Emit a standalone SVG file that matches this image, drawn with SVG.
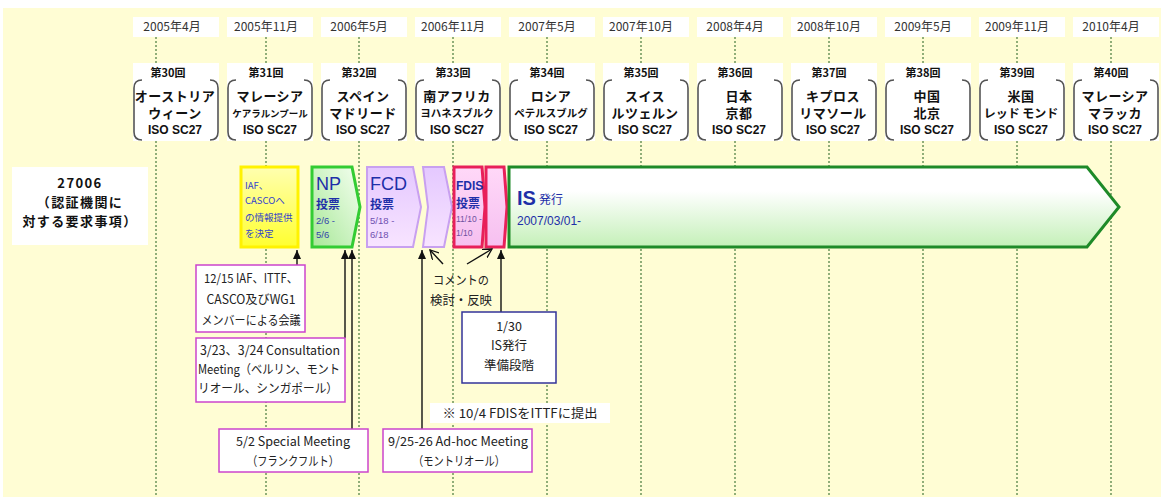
<svg xmlns="http://www.w3.org/2000/svg" width="1161" height="504" viewBox="0 0 1161 504">
<defs>
<style>
.bg{fill:#FFFDD4}
.dot{stroke:#90AE78;stroke-width:2;stroke-dasharray:2 2;fill:none}
.lbl{fill:#fff}
.date{font-family:"Noto Sans CJK JP","Noto Sans",sans-serif;font-size:12px;fill:#333;text-anchor:middle}
.kai{font-family:"Noto Sans CJK JP",sans-serif;font-size:11px;font-weight:bold;fill:#111;text-anchor:middle}
.mt{font-family:"Noto Sans CJK JP",sans-serif;font-size:13px;font-weight:bold;fill:#111;text-anchor:middle;letter-spacing:0.5px}
.ms{font-family:"Noto Sans CJK JP",sans-serif;font-size:9.5px;font-weight:bold;fill:#111;text-anchor:middle}
.iso{font-family:"Liberation Sans","Noto Sans CJK JP",sans-serif;font-size:12px;font-weight:bold;fill:#111;text-anchor:middle}
.ann{font-family:"Noto Sans CJK JP",sans-serif;font-size:12.5px;fill:#222;text-anchor:middle}
.ttl{font-family:"Noto Sans CJK JP",sans-serif;font-size:13px;font-weight:bold;fill:#111;text-anchor:middle;letter-spacing:1.4px}
.box{fill:#fff;stroke:#CC44CC;stroke-width:1.5}
.blue{fill:#1E2FA8;font-family:"Liberation Sans","Noto Sans CJK JP",sans-serif}
.conn{stroke:#111;stroke-width:1.4;fill:none}
</style>
<g id="bracket">
<rect x="0" y="0" width="86" height="62" fill="#fff"/>
<path d="M9,1 Q1,1 1,9 L1,53 Q1,61 9,61 M77,1 Q85,1 85,9 L85,53 Q85,61 77,61" fill="none" stroke="#555" stroke-width="1.6"/>
</g>
<marker id="ah" markerUnits="userSpaceOnUse" markerWidth="10" markerHeight="8" refX="9" refY="4" orient="auto"><path d="M0,0 L9,4 L0,8 z" fill="#111"/></marker>
<marker id="ao" markerUnits="userSpaceOnUse" markerWidth="10" markerHeight="10" refX="9" refY="5" orient="auto"><path d="M0,0 L9,5 L0,10" fill="none" stroke="#111" stroke-width="1.3"/></marker>
<linearGradient id="gY" x1="0" y1="0" x2="0" y2="1"><stop offset="0" stop-color="#FFFFB0"/><stop offset="1" stop-color="#FFFF30"/></linearGradient>
<linearGradient id="gG" x1="1" y1="0" x2="0" y2="1"><stop offset="0" stop-color="#F4FFF0"/><stop offset="1" stop-color="#A8E898"/></linearGradient>
<linearGradient id="gP" x1="0" y1="0" x2="0" y2="1"><stop offset="0" stop-color="#E4C8FF"/><stop offset="1" stop-color="#F8E4FF"/></linearGradient>
<linearGradient id="gR" x1="0" y1="0" x2="0" y2="1"><stop offset="0" stop-color="#FFD8F8"/><stop offset="1" stop-color="#F6C0F0"/></linearGradient>
<linearGradient id="gIS" x1="0" y1="0" x2="0" y2="1"><stop offset="0" stop-color="#FFFFFF"/><stop offset="0.3" stop-color="#FFFFFF"/><stop offset="1" stop-color="#C4F0B8"/></linearGradient>
</defs>
<rect class="bg" x="3" y="8" width="1158" height="489"/>

<g id="gridlines">
<path class="dot" d="M156,37 V63 M156,141 V497 M266,37 V63 M266,141 V497 M359,37 V63 M359,141 V497 M453,37 V63 M453,141 V497 M547,37 V63 M547,141 V497 M641,37 V63 M641,141 V497 M735,37 V63 M735,141 V497 M829,37 V63 M829,141 V497 M923,37 V63 M923,141 V497 M1017,37 V63 M1017,141 V497 M1111,37 V63 M1111,141 V497"/>
</g>

<g id="m30"><rect class="lbl" x="133" y="17" width="86" height="20"/><text class="date" x="172" y="31">2005年4月</text><rect class="lbl" x="133" y="63" width="86" height="16"/><text class="kai" x="168" y="77">第30回</text><use href="#bracket" x="133" y="79"/><text class="mt" x="175" y="101">オーストリア</text><text class="mt" x="175" y="118">ウィーン</text><text class="iso" x="175" y="134">ISO SC27</text></g>
<g id="m31"><rect class="lbl" x="227" y="17" width="86" height="20"/><text class="date" x="266" y="31">2005年11月</text><rect class="lbl" x="227" y="63" width="86" height="16"/><text class="kai" x="266" y="77">第31回</text><use href="#bracket" x="227" y="79"/><text class="mt" x="270" y="101">マレーシア</text><text class="ms" x="270" y="117">ケアラルンプール</text><text class="iso" x="270" y="134">ISO SC27</text></g>
<g id="m32"><rect class="lbl" x="321" y="17" width="86" height="20"/><text class="date" x="359" y="31">2006年5月</text><rect class="lbl" x="321" y="63" width="86" height="16"/><text class="kai" x="359" y="77">第32回</text><use href="#bracket" x="321" y="79"/><text class="mt" x="363" y="101">スペイン</text><text class="mt" x="363" y="118">マドリード</text><text class="iso" x="363" y="134">ISO SC27</text></g>
<g id="m33"><rect class="lbl" x="415" y="17" width="86" height="20"/><text class="date" x="453" y="31">2006年11月</text><rect class="lbl" x="415" y="63" width="86" height="16"/><text class="kai" x="453" y="77">第33回</text><use href="#bracket" x="415" y="79"/><text class="mt" x="457" y="101">南アフリカ</text><text class="ms" x="457" y="117" style="font-size:10.5px">ヨハネスブルク</text><text class="iso" x="457" y="134">ISO SC27</text></g>
<g id="m34"><rect class="lbl" x="509" y="17" width="86" height="20"/><text class="date" x="547" y="31">2007年5月</text><rect class="lbl" x="509" y="63" width="86" height="16"/><text class="kai" x="547" y="77">第34回</text><use href="#bracket" x="509" y="79"/><text class="mt" x="551" y="101">ロシア</text><text class="ms" x="551" y="117" style="font-size:10.5px">ペテルスブルグ</text><text class="iso" x="551" y="134">ISO SC27</text></g>
<g id="m35"><rect class="lbl" x="603" y="17" width="86" height="20"/><text class="date" x="641" y="31">2007年10月</text><rect class="lbl" x="603" y="63" width="86" height="16"/><text class="kai" x="641" y="77">第35回</text><use href="#bracket" x="603" y="79"/><text class="mt" x="645" y="101">スイス</text><text class="mt" x="645" y="118">ルツェルン</text><text class="iso" x="645" y="134">ISO SC27</text></g>
<g id="m36"><rect class="lbl" x="697" y="17" width="86" height="20"/><text class="date" x="735" y="31">2008年4月</text><rect class="lbl" x="697" y="63" width="86" height="16"/><text class="kai" x="735" y="77">第36回</text><use href="#bracket" x="697" y="79"/><text class="mt" x="739" y="101">日本</text><text class="mt" x="739" y="118">京都</text><text class="iso" x="739" y="134">ISO SC27</text></g>
<g id="m37"><rect class="lbl" x="791" y="17" width="86" height="20"/><text class="date" x="829" y="31">2008年10月</text><rect class="lbl" x="791" y="63" width="86" height="16"/><text class="kai" x="829" y="77">第37回</text><use href="#bracket" x="791" y="79"/><text class="mt" x="833" y="101">キプロス</text><text class="mt" x="833" y="118">リマソール</text><text class="iso" x="833" y="134">ISO SC27</text></g>
<g id="m38"><rect class="lbl" x="885" y="17" width="86" height="20"/><text class="date" x="923" y="31">2009年5月</text><rect class="lbl" x="885" y="63" width="86" height="16"/><text class="kai" x="923" y="77">第38回</text><use href="#bracket" x="885" y="79"/><text class="mt" x="927" y="101">中国</text><text class="mt" x="927" y="118">北京</text><text class="iso" x="927" y="134">ISO SC27</text></g>
<g id="m39"><rect class="lbl" x="979" y="17" width="86" height="20"/><text class="date" x="1017" y="31">2009年11月</text><rect class="lbl" x="979" y="63" width="86" height="16"/><text class="kai" x="1017" y="77">第39回</text><use href="#bracket" x="979" y="79"/><text class="mt" x="1021" y="101">米国</text><text class="mt" x="1021" y="118" style="font-size:12px;letter-spacing:0">レッド モンド</text><text class="iso" x="1021" y="134">ISO SC27</text></g>
<g id="m40"><rect class="lbl" x="1073" y="17" width="86" height="20"/><text class="date" x="1111" y="31">2010年4月</text><rect class="lbl" x="1073" y="63" width="86" height="16"/><text class="kai" x="1111" y="77">第40回</text><use href="#bracket" x="1073" y="79"/><text class="mt" x="1115" y="101">マレーシア</text><text class="mt" x="1115" y="118">マラッカ</text><text class="iso" x="1115" y="134">ISO SC27</text></g>

<g id="title27006">
<rect x="12" y="167" width="136" height="78" fill="#fff"/>
<text class="ttl" x="80" y="188">27006</text>
<text class="ttl" x="80" y="207">（認証機関に</text>
<text class="ttl" x="80" y="226">対する要求事項）</text>
</g>

<g id="iaf">
<rect x="241" y="167" width="57" height="80" fill="url(#gY)" stroke="#FFF200" stroke-width="3"/>
<g style="font-family:'Noto Sans CJK JP',sans-serif;font-size:9.5px;fill:#3344CC">
<text x="245" y="189">IAF、</text><text x="245" y="204">CASCOへ</text><text x="245" y="221">の情報提供</text><text x="245" y="237">を決定</text>
</g>
</g>

<g id="np">
<path d="M312,167 L352,167 L360,207 L352,247 L312,247 Z" fill="url(#gG)" stroke="#33CC33" stroke-width="3"/>
<text class="blue" x="316" y="190" style="font-size:18px">NP</text>
<text class="blue" x="316" y="209" style="font-size:12px;font-weight:bold;font-family:'Noto Sans CJK JP',sans-serif">投票</text>
<text class="blue" x="316" y="224" style="font-size:9.5px;fill:#3344AA">2/6 -</text>
<text class="blue" x="316" y="238" style="font-size:9.5px;fill:#3344AA">5/6</text>
</g>

<g id="fcd">
<path d="M367,167 L413,167 L421,207 L413,247 L367,247 Z" fill="url(#gP)" stroke="#C8A0F0" stroke-width="2"/>
<text class="blue" x="370" y="190" style="font-size:18px">FCD</text>
<text class="blue" x="370" y="209" style="font-size:12px;font-weight:bold;font-family:'Noto Sans CJK JP',sans-serif">投票</text>
<text class="blue" x="370" y="224" style="font-size:9.5px;fill:#7050B0">5/18 -</text>
<text class="blue" x="370" y="238" style="font-size:9.5px;fill:#7050B0">6/18</text>
</g>

<g id="fcdreview">
<path d="M423,167 L444,167 L452,207 L444,247 L423,247 L428,207 Z" fill="url(#gP)" stroke="#C8A0F0" stroke-width="2"/>
</g>

<g id="fdis">
<path d="M454,167 L482,167 L485,207 L482,247 L454,247 Z" fill="url(#gR)" stroke="#E8205A" stroke-width="3"/>
<text class="blue" x="456" y="190" style="font-size:12px;font-weight:bold">FDIS</text>
<text class="blue" x="456" y="208" style="font-size:12px;font-weight:bold;font-family:'Noto Sans CJK JP',sans-serif">投票</text>
<text class="blue" x="456" y="222" style="font-size:8.5px;fill:#7050A0">11/10 -</text>
<text class="blue" x="456" y="236" style="font-size:8.5px;fill:#7050A0">1/10</text>
</g>

<g id="fdisreview">
<path d="M486,167 L504,167 L507,207 L504,247 L486,247 Z" fill="url(#gR)" stroke="#E8205A" stroke-width="3"/>
</g>

<g id="is">
<path d="M509,167 L1087,167 L1119,207 L1087,247 L509,247 Z" fill="url(#gIS)" stroke="#1E8A28" stroke-width="3"/>
<text class="blue" x="517" y="205" style="font-size:20px;font-weight:bold">IS</text>
<text class="blue" x="539" y="204" style="font-size:12px;font-family:'Noto Sans CJK JP',sans-serif">発行</text>
<text class="blue" x="517" y="225" style="font-size:12px">2007/03/01-</text>
</g>

<g id="connectors">
<path class="conn" d="M297,265 V250" marker-end="url(#ah)"/>
<path class="conn" d="M345,338 V250" marker-end="url(#ah)"/>
<path class="conn" d="M352,429 V250" marker-end="url(#ah)"/>
<path class="conn" d="M422,429 V250" marker-end="url(#ah)"/>
<path class="conn" d="M501,312 V250" marker-end="url(#ah)"/>
<path class="conn" d="M443,264 L430,250" marker-end="url(#ao)"/>
<path class="conn" d="M467,264 L492,249" marker-end="url(#ao)"/>
</g>

<g id="comment">
<text class="ann" x="461" y="285" textLength="56" lengthAdjust="spacingAndGlyphs">コメントの</text>
<text class="ann" x="461" y="305" textLength="62" lengthAdjust="spacingAndGlyphs">検討・反映</text>
</g>

<g id="n1215">
<rect class="box" x="196" y="265" width="109" height="67"/>
<text class="ann" x="251" y="283" textLength="94" lengthAdjust="spacingAndGlyphs">12/15 IAF、ITTF、</text>
<text class="ann" x="251" y="304" textLength="89" lengthAdjust="spacingAndGlyphs">CASCO及びWG1</text>
<text class="ann" x="251" y="325" textLength="99" lengthAdjust="spacingAndGlyphs">メンバーによる会議</text>
</g>

<g id="n0323">
<rect class="box" x="196" y="338" width="149" height="64"/>
<text class="ann" x="270" y="355" textLength="140" lengthAdjust="spacingAndGlyphs">3/23、3/24 Consultation</text>
<text class="ann" x="269" y="374" textLength="142" lengthAdjust="spacingAndGlyphs">Meeting（ベルリン、モント</text>
<text class="ann" x="268" y="393" textLength="140" lengthAdjust="spacingAndGlyphs">リオール、シンガポール）</text>
</g>

<g id="n0130">
<rect x="462" y="312" width="94" height="71" fill="#fff" stroke="#333399" stroke-width="1.5"/>
<text class="ann" x="509" y="331">1/30</text>
<text class="ann" x="509" y="350">IS発行</text>
<text class="ann" x="509" y="370">準備段階</text>
</g>

<g id="n1004">
<rect x="430" y="403" width="180" height="20" fill="#fff"/>
<text class="ann" x="520" y="418" textLength="155" lengthAdjust="spacingAndGlyphs">※ 10/4 FDISをITTFに提出</text>
</g>

<g id="n0502">
<rect class="box" x="219" y="429" width="149" height="43"/>
<text class="ann" x="293" y="446" textLength="114" lengthAdjust="spacingAndGlyphs">5/2 Special Meeting</text>
<text class="ann" x="293" y="466" textLength="92" lengthAdjust="spacingAndGlyphs">（フランクフルト）</text>
</g>

<g id="n0925">
<rect class="box" x="383" y="429" width="149" height="43"/>
<text class="ann" x="458" y="446" textLength="140" lengthAdjust="spacingAndGlyphs">9/25-26 Ad-hoc Meeting</text>
<text class="ann" x="459" y="466" textLength="92" lengthAdjust="spacingAndGlyphs">（モントリオール）</text>
</g>
</svg>
